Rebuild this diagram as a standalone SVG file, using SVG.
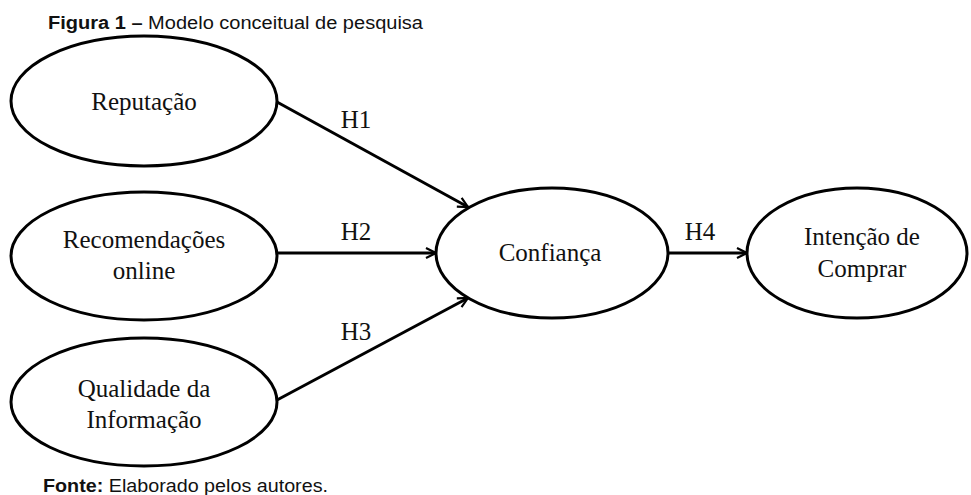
<svg xmlns="http://www.w3.org/2000/svg" width="971" height="495" viewBox="0 0 971 495">
<defs>
<marker id="arr" viewBox="0 0 12 12" refX="11" refY="6" markerWidth="12" markerHeight="12" markerUnits="userSpaceOnUse" orient="auto">
<path d="M1,1 L11,6 L1,11" fill="none" stroke="#000" stroke-width="2.2"/>
</marker>
<style>
.n{fill:#fff;stroke:#000;stroke-width:3}
.t{font-family:"Liberation Serif","Times New Roman",serif;font-size:25px;fill:#111;text-anchor:middle}
.c{stroke:#000;stroke-width:3;fill:none;marker-end:url(#arr)}
.s{font-family:"Liberation Sans",Arial,sans-serif;font-size:17.5px;fill:#111}
</style>
</defs>
<rect width="971" height="495" fill="#fff"/>
<text class="s" x="48" y="29" textLength="375" lengthAdjust="spacingAndGlyphs"><tspan font-weight="bold">Figura 1 –</tspan> Modelo conceitual de pesquisa</text>
<g id="connectors">
<line class="c" x1="277" y1="102" x2="468" y2="207"/>
<line class="c" x1="277" y1="253" x2="436" y2="253"/>
<line class="c" x1="277" y1="400" x2="468" y2="298"/>
<line class="c" x1="668" y1="253" x2="747" y2="253"/>
<text class="t" x="356" y="128">H1</text>
<text class="t" x="356" y="240">H2</text>
<text class="t" x="356" y="340">H3</text>
<text class="t" x="700" y="240">H4</text>
</g>
<g id="reputacao"><ellipse class="n" cx="144" cy="101" rx="133" ry="65"/><text class="t" x="144" y="110">Reputação</text></g>
<g id="recomendacoes"><ellipse class="n" cx="144" cy="256" rx="133" ry="64"/><text class="t" x="144" y="248">Recomendações</text><text class="t" x="144" y="279">online</text></g>
<g id="qualidade"><ellipse class="n" cx="144" cy="402" rx="133" ry="64"/><text class="t" x="144" y="397">Qualidade da</text><text class="t" x="144" y="428">Informação</text></g>
<g id="confianca"><ellipse class="n" cx="552" cy="253" rx="116" ry="65"/><text class="t" x="550" y="261">Confiança</text></g>
<g id="intencao"><ellipse class="n" cx="857" cy="253" rx="110" ry="65"/><text class="t" x="862" y="245">Intenção de</text><text class="t" x="862" y="277">Comprar</text></g>
<text class="s" x="43" y="492" textLength="285" lengthAdjust="spacingAndGlyphs"><tspan font-weight="bold">Fonte:</tspan> Elaborado pelos autores.</text>
</svg>
